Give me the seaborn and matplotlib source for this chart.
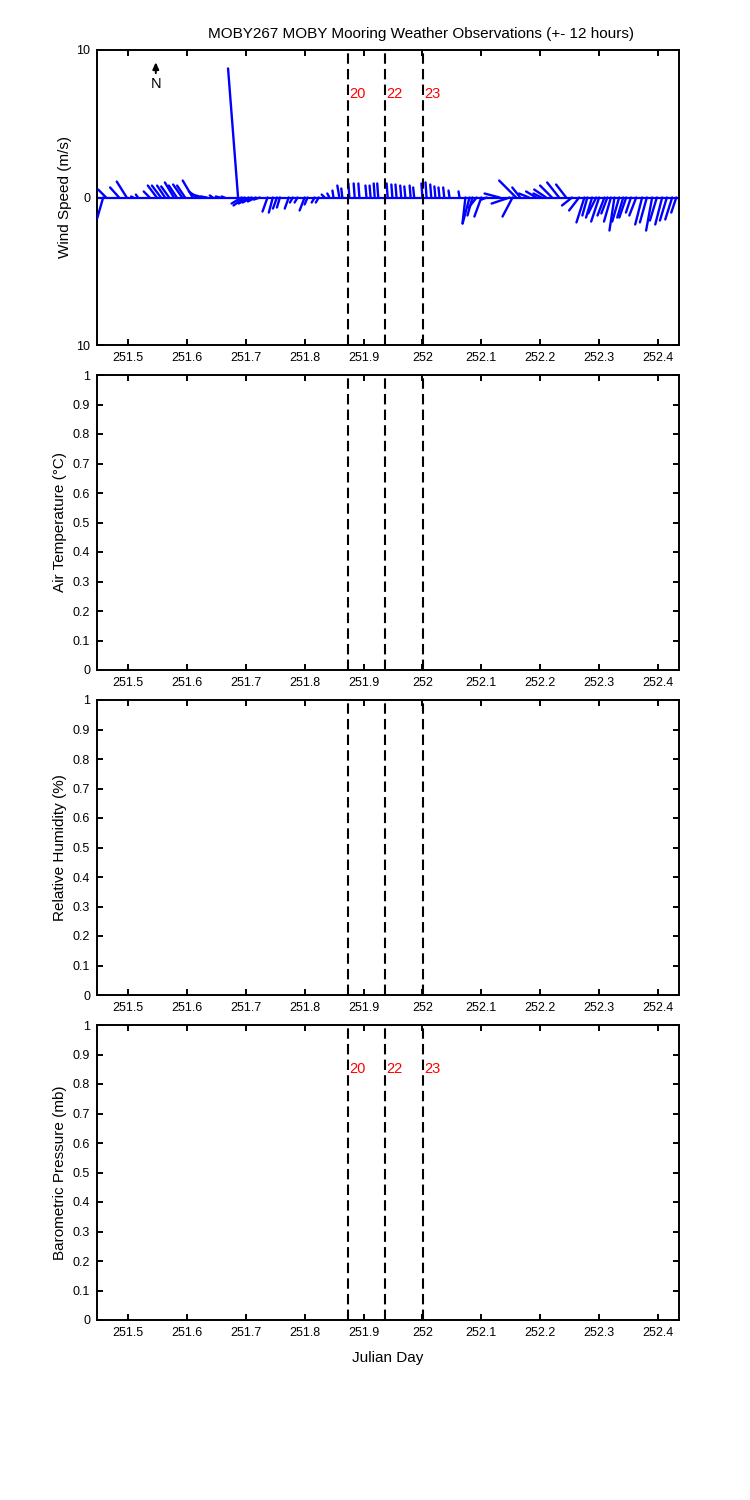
import numpy as np
import pandas as pd
import matplotlib
matplotlib.use('Agg')
import matplotlib.pyplot as plt
import matplotlib.transforms as mtrans
from matplotlib.ticker import FuncFormatter, MultipleLocator
import seaborn as sns

# wind sticks: julian day, east (u) and north (v) components in m/s
day = [251.458, 251.463, 251.485, 251.498, 251.509, 251.517, 251.537, 251.549, 251.556, 251.563,
       251.570, 251.578, 251.583, 251.592, 251.597, 251.610, 251.617, 251.627, 251.634, 251.644,
       251.656, 251.664, 251.687, 251.693, 251.698, 251.705, 251.710, 251.717, 251.724, 251.737,
       251.746, 251.753, 251.758, 251.773, 251.780, 251.788, 251.800, 251.805, 251.817, 251.824,
       251.834, 251.842, 251.849, 251.859, 251.864, 251.876, 251.885, 251.893, 251.905, 251.912,
       251.919, 251.925, 251.941, 251.949, 251.956, 251.964, 251.971, 251.980, 251.986, 252.000,
       252.007, 252.015, 252.022, 252.029, 252.037, 252.046, 252.063, 252.073, 252.080, 252.085,
       252.092, 252.100, 252.109, 252.131, 252.148, 252.153, 252.159, 252.166, 252.181, 252.193,
       252.202, 252.210, 252.220, 252.232, 252.244, 252.254, 252.266, 252.275, 252.280, 252.288,
       252.295, 252.300, 252.309, 252.314, 252.320, 252.326, 252.334, 252.341, 252.346, 252.354,
       252.363, 252.373, 252.381, 252.390, 252.398, 252.407, 252.415, 252.424, 252.431]
u_wind = [-0.41, -0.54, -0.61, -0.68, -0.14, -0.14, -0.41, -0.61, -0.61, -0.54,
          -0.54, -0.61, -0.54, -0.61, -0.54, -0.68, -0.54, -0.68, -0.41, -0.20,
          -0.27, -0.20, -0.68, -0.68, -0.75, -0.68, -0.61, -0.54, -0.41, -0.34,
          -0.27, -0.27, -0.20, -0.27, -0.20, -0.20, -0.34, -0.20, -0.20, -0.20,
          -0.20, -0.14, -0.07, -0.14, -0.07, -0.07, -0.07, -0.07, -0.07, -0.07,
          -0.07, -0.07, -0.07, -0.07, -0.07, -0.07, -0.07, -0.07, -0.07, -0.07,
          -0.07, -0.07, -0.07, -0.07, -0.07, -0.07, -0.07, -0.20, -0.47, -0.34,
          -0.54, -0.47, -0.34, -1.02, -1.22, -0.68, -1.15, -0.54, -0.68, -0.68,
          -0.54, -0.81, -0.81, -0.81, -0.68, -0.68, -0.68, -0.54, -0.34, -0.41,
          -0.54, -0.54, -0.47, -0.41, -0.47, -0.34, -0.47, -0.41, -0.47, -0.34,
          -0.47, -0.47, -0.47, -0.41, -0.47, -0.47, -0.47, -0.47, -0.34]
v_wind = [-1.42, 0.54, 0.68, 1.08, 0.07, 0.20, 0.41, 0.81, 0.81, 0.81,
          0.75, 1.02, 0.81, 0.88, 0.81, 1.15, 0.41, 0.20, 0.07, 0.14,
          0.07, 0.07, 8.75, -0.41, -0.54, -0.41, -0.34, -0.27, -0.14, -0.95,
          -1.02, -0.75, -0.68, -0.75, -0.34, -0.34, -0.88, -0.47, -0.34, -0.34,
          0.20, 0.27, 0.47, 0.81, 0.61, 0.95, 0.95, 0.95, 0.81, 0.81,
          0.95, 0.95, 0.95, 0.88, 0.88, 0.81, 0.75, 0.81, 0.68, 0.95,
          1.02, 0.88, 0.75, 0.68, 0.68, 0.47, 0.41, -1.76, -1.76, -1.22,
          -0.68, -1.29, -0.14, 0.27, -0.41, -1.29, 1.15, 0.68, 0.27, 0.41,
          0.27, 0.54, 0.81, 1.02, 0.88, -0.54, -0.88, -1.69, -1.22, -1.36,
          -1.08, -1.63, -1.22, -1.08, -1.63, -2.24, -1.63, -1.36, -1.36, -1.02,
          -1.22, -1.83, -1.69, -2.24, -1.56, -1.83, -1.56, -1.49, -1.02]

# sample times marked with dashed lines and their labels
mark_day = [251.8734, 251.9368, 252.0017]
mark_lab = ['20', '22', '23']

xlim = (251.4475, 252.4356)
stick_scale = 0.025   # days per m/s along x

ylabels = ['Wind Speed (m/s)', 'Air Temperature (\u00b0C)', 'Relative Humidity (%)', 'Barometric Pressure (mb)']

sns.set_style('white')
plt.rcParams['font.family'] = ['Liberation Sans', 'DejaVu Sans']
plt.rcParams['text.color'] = 'black'
plt.rcParams['axes.labelcolor'] = 'black'

fig = plt.figure(figsize=(7.5, 15), dpi=100)
lefts = 97 / 750
width = 582 / 750
tops = [50, 375, 700, 1025]
axes = []
for t in tops:
    ax = fig.add_axes([lefts, 1 - (t + 295) / 1500, width, 295 / 1500])
    axes.append(ax)

# stick table for seaborn
rows = []
for i in range(len(day)):
    rows.append({'stick': i, 'x': day[i], 'y': 0.0})
    rows.append({'stick': i, 'x': day[i] + u_wind[i] * stick_scale, 'y': v_wind[i]})
sticks = pd.DataFrame(rows)

ax = axes[0]
ax.axhline(0, color='#0000ff', lw=1.6, zorder=2)
sns.lineplot(data=sticks, x='x', y='y', units='stick', estimator=None, sort=False,
             color='#0000ff', lw=1.7, ax=ax, zorder=3)
ax.set_ylim(-10, 10)
ax.set_yticks([-10, 0, 10])
ax.yaxis.set_major_formatter(FuncFormatter(lambda v, p: '%g' % abs(v)))
ax.annotate('', xy=(0.101, 0.968), xytext=(0.101, 0.912), xycoords='axes fraction',
            arrowprops=dict(arrowstyle='-|>,head_width=0.18,head_length=0.4', color='black', lw=1.4))
ax.text(0.101, 0.886, 'N', transform=ax.transAxes, ha='center', va='center', fontsize=10.5)

for k, ax in enumerate(axes):
    if k > 0:
        ax.set_ylim(0, 1)
        ax.yaxis.set_major_locator(MultipleLocator(0.1))
        ax.yaxis.set_major_formatter(FuncFormatter(lambda v, p: '%g' % round(v, 1)))
    ax.set_xlim(*xlim)
    ax.xaxis.set_major_locator(MultipleLocator(0.1))
    ax.xaxis.set_major_formatter(FuncFormatter(lambda v, p: '%g' % round(v, 1)))
    for d in mark_day:
        ax.axvline(d, color='black', lw=1.5, ls=(0, (5, 2.5)), zorder=4)
    if k in (0, 3):
        trans = mtrans.blended_transform_factory(ax.transData, ax.transAxes)
        for d, lab in zip(mark_day, mark_lab):
            ax.text(d + 0.002, 0.85, lab, transform=trans, color='red',
                    ha='left', va='center', fontsize=10.5)
    ax.tick_params(direction='in', bottom=True, left=True, top=True, right=True,
                   length=4, width=1.4, labelsize=9, pad=5, colors='black')
    for s in ax.spines.values():
        s.set_visible(True)
        s.set_color('black')
        s.set_linewidth(1.4)
    ax.set_ylabel(ylabels[k], fontsize=11, labelpad=4 if k > 0 else 3)
    if k in (0, 3):
        # top panel label is mostly covered by the panel below, as in the original
        ax.set_xlabel('Julian Day', fontsize=11, labelpad=9)
    ax.set_facecolor('white')

fig.text(421 / 750, 1 - 34 / 1500, 'MOBY267 MOBY Mooring Weather Observations (+- 12 hours)',
         ha='center', va='center', fontsize=11, color='black')

fig.savefig('out.png', dpi=100, facecolor='white')
